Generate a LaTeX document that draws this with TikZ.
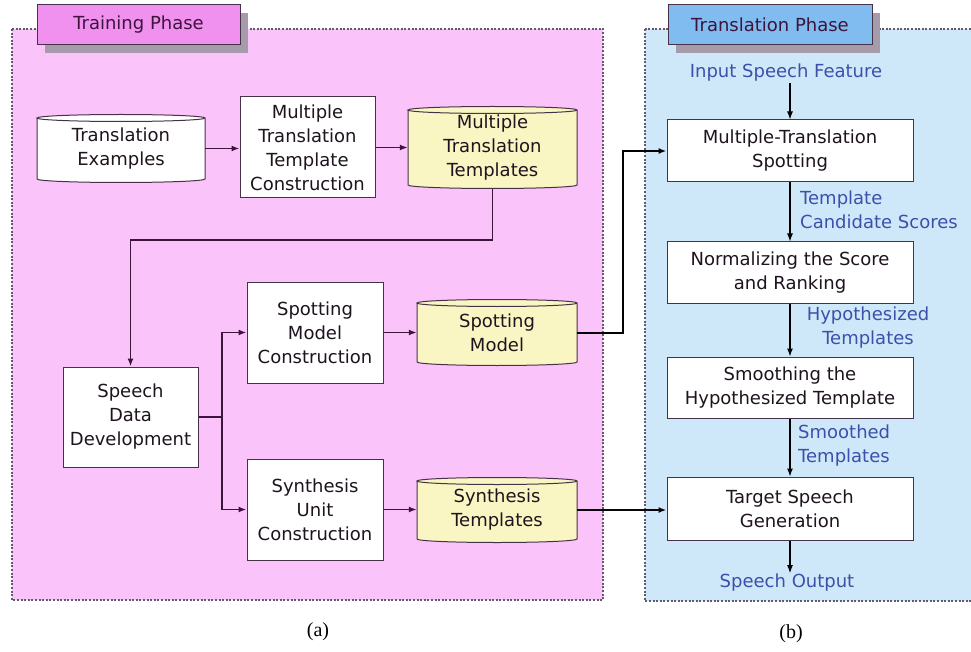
\documentclass[tikz,border=0pt]{standalone}
\usepackage{fontspec}
\setmainfont{DejaVu Sans}
\newfontfamily\capfont{Liberation Serif}
\usetikzlibrary{arrows.meta}
\definecolor{pinkbg}{RGB}{250,196,250}
\definecolor{bluebg}{RGB}{206,232,250}
\definecolor{pinkhead}{RGB}{240,145,240}
\definecolor{bluehead}{RGB}{128,188,240}
\definecolor{cylyellow}{RGB}{250,246,196}
\definecolor{edgec}{RGB}{70,50,70}
\definecolor{arrowc}{RGB}{60,20,60}
\definecolor{labelblue}{RGB}{60,80,170}
\definecolor{txt}{RGB}{30,20,30}
\definecolor{shadowc}{RGB}{165,155,170}
\definecolor{borderc}{RGB}{100,90,110}
\newcommand\mycyl[7]{%
  \fill[#6] ({#2-#4/2},{#3+#5/2}) -- ({#2-#4/2},{#3-#5/2})
     arc[start angle=180,end angle=360,x radius=#4pt/2,y radius=3.5pt]
     -- ({#2+#4/2},{#3+#5/2})
     arc[start angle=0,end angle=180,x radius=#4pt/2,y radius=3.5pt] -- cycle;
  \draw[edgec,line width=1pt] ({#2-#4/2},{#3+#5/2}) -- ({#2-#4/2},{#3-#5/2})
     arc[start angle=180,end angle=360,x radius=#4pt/2,y radius=3.5pt]
     -- ({#2+#4/2},{#3+#5/2})
     arc[start angle=0,end angle=360,x radius=#4pt/2,y radius=3.5pt];
  \node[cylbody,minimum width=#4pt,minimum height=#5pt] (#1) at (#2,#3) {#7};
}
\begin{document}
\begin{tikzpicture}[x=1pt,y=1pt,
  font=\fontsize{18}{24}\selectfont,
  box/.style={draw=edgec,line width=1pt,fill=white,align=center,inner sep=0pt,text=txt},
  cylbody/.style={rectangle,inner sep=0pt,align=center,text=txt},
  head/.style={draw=edgec,line width=1pt,inner sep=0pt,text={rgb,255:red,60;green,20;blue,60},font=\fontsize{18}{22}\selectfont},
  lbl/.style={text=labelblue,inner sep=1pt},
  conn/.style={draw=arrowc,line width=1.6pt,-{Latex[length=8pt,width=6pt]}},
  plain/.style={draw=arrowc,line width=1.6pt},
  arrR/.style={draw=black,line width=1.1pt,-{Latex[length=8pt,width=6pt]}},
  panel/.style={draw=borderc,line width=1.3pt,dash pattern=on 2pt off 1.6pt}]
\useasboundingbox (0,0) rectangle (971,-652);
\clip (0,0) rectangle (971,-652);
\fill[white] (0,0) rectangle (971,-652);
% panels
\draw[panel,fill=pinkbg] (12,-29) rectangle (603,-600);
\draw[panel,fill=bluebg] (645,-29) rectangle (990,-601);
% headers
\fill[shadowc] (45,-13) rectangle (248,-53);
\node[head,fill=pinkhead,minimum width=203pt,minimum height=40pt] (th) at (138.5,-25) {Training Phase};
\fill[shadowc] (676,-13) rectangle (880,-53);
\node[head,fill=bluehead,minimum width=204pt,minimum height=40pt] (tp) at (770,-25) {Translation Phase};
% training nodes
\mycyl{te}{121}{-148.5}{168}{61}{white}{Translation\\Examples}
\node[box,minimum width=135pt,minimum height=101pt] (mttc) at (307.5,-147.5) {Multiple\\Translation\\Template\\Construction};
\mycyl{mtt}{492.5}{-147.5}{169}{75}{cylyellow}{Multiple\\Translation\\Templates}
\node[box,minimum width=135pt,minimum height=100pt] (sdd) at (130.5,-417) {Speech\\Data\\Development};
\node[box,minimum width=136pt,minimum height=101pt] (smc) at (315,-332.5) {Spotting\\Model\\Construction};
\node[box,minimum width=136pt,minimum height=101pt] (suc) at (315,-509.5) {Synthesis\\Unit\\Construction};
\mycyl{sm}{497}{-332.5}{160}{59}{cylyellow}{Spotting\\Model}
\mycyl{st}{497}{-510}{160}{58}{cylyellow}{Synthesis\\Templates}
% translation nodes
\node[lbl] (isf) at (786,-73) {Input Speech Feature};
\node[box,minimum width=246pt,minimum height=62pt] (mts) at (790,-151) {Multiple-Translation\\Spotting};
\node[box,minimum width=246pt,minimum height=61pt] (nsr) at (790,-272.5) {Normalizing the Score\\and Ranking};
\node[box,minimum width=246pt,minimum height=61pt] (sht) at (790,-387.5) {Smoothing the\\Hypothesized Template};
\node[box,minimum width=246pt,minimum height=63pt] (tsg) at (790,-508.5) {Target Speech\\Generation};
\node[lbl] (so) at (787,-583) {Speech Output};
\node[lbl,anchor=west,align=left] (l1) at (799,-209.5) {Template\\Candidate Scores};
\node[lbl,align=center] (l2) at (868,-328) {Hypothesized\\Templates};
\node[lbl,anchor=west,align=left] (l3) at (797,-445.5) {Smoothed\\Templates};
% connectors training
\draw[conn] (te.east) -- (te.east -| mttc.west);
\draw[conn] (mttc.east) -- (mttc.east -| mtt.west);
\draw[conn] ([yshift=-3.5pt]mtt.south) -- ++(0,-51.5) -| (sdd.north);
\coordinate (br) at (222,-417);
\draw[plain] (sdd.east) -- (br);
\draw[conn] (br) |- (smc.west);
\draw[conn] (br) |- (suc.west);
\draw[conn] (smc.east) -- (smc.east -| sm.west);
\draw[conn] (suc.east) -- (suc.east -| st.west);
\draw[conn,draw=black,line width=2pt] (sm.east) -- ++(46,0) |- (mts.west);
\draw[conn,draw=black!80!arrowc,line width=1.9pt] (st.east) -- (st.east -| tsg.west);
% connectors translation
\draw[arrR] (isf.south -| mts.north) -- (mts.north);
\draw[arrR] (mts) -- (nsr);
\draw[arrR] (nsr) -- (sht);
\draw[arrR] (sht) -- (tsg);
\draw[arrR] (tsg.south) -- (tsg.south |- so.north);
% captions
\node[font=\capfont\fontsize{20}{24}\selectfont] (ca) at (318,-632) {(a)};
\node[font=\capfont\fontsize{20}{24}\selectfont] (cb) at (791,-634) {(b)};
\end{tikzpicture}
\end{document}
